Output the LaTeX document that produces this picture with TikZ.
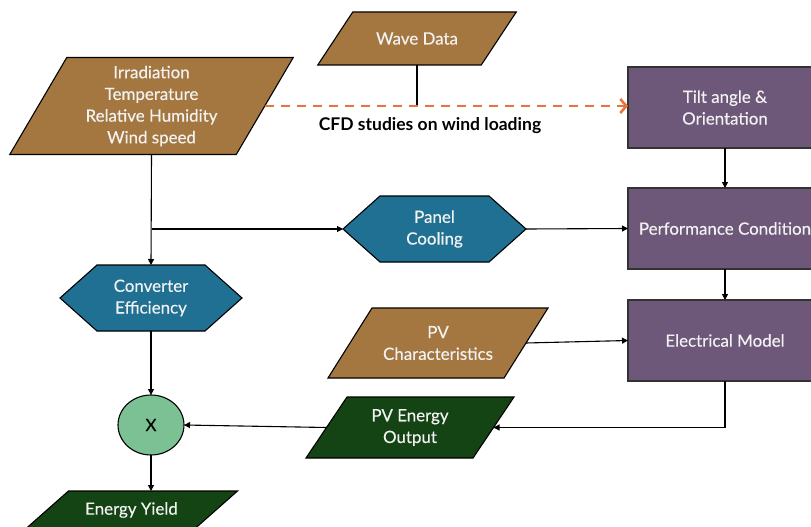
\documentclass[tikz,border=0pt]{standalone}
\usepackage{fontspec}
\setmainfont{Lato}
\newfontfamily\lblfont{Lato}[FakeBold=0.35]
\usetikzlibrary{arrows.meta,shapes.geometric,calc}
\pgfdeclarelayer{bg}
\pgfsetlayers{bg,main}
\definecolor{cbrown}{HTML}{A47741}
\definecolor{cteal}{HTML}{1F7093}
\definecolor{cpurple}{HTML}{6E5879}
\definecolor{dgreen}{HTML}{154414}
\definecolor{lgreen}{HTML}{7BC194}
\definecolor{corange}{HTML}{E8743B}
\newcommand\drawpara[3]{\fill[#3,draw=black,line width=1.1pt] ([xshift=#2/2]#1.north west) -- ([xshift=#2/2]#1.north east) -- ([xshift=-#2/2]#1.south east) -- ([xshift=-#2/2]#1.south west) -- cycle;}
\newcommand\drawhex[3]{\fill[#3,draw=black,line width=1.1pt] (#1.west) -- ([xshift=#2]#1.north west) -- ([xshift=-#2]#1.north east) -- (#1.east) -- ([xshift=-#2]#1.south east) -- ([xshift=#2]#1.south west) -- cycle;}
\newcommand\drawbox[2]{\fill[#2,draw=black!80,line width=1.1pt] (#1.north west) rectangle (#1.south east);}
\tikzset{
  lbl/.style={align=center, text=white!95!black, font=\lblfont\fontsize{16.9}{21.7}\selectfont, inner sep=0pt, outer sep=0pt},
  conn/.style={draw=black, line width=1.1pt},
  arr/.style={conn, -{Triangle[length=6pt,width=6pt]}},
  windarrow/.style={draw=corange, line width=2.6pt, dash pattern=on 9pt off 7pt, -{Straight Barb[length=6pt,width=14pt]}}
}
\begin{document}
\begin{tikzpicture}[x=1pt,y=-1pt]
\useasboundingbox (0,0) rectangle (811,527);
\node[lbl, minimum width=226.5, minimum height=97] (inp) at (151.5,106) {Irradiation\\Temperature\\Relative Humidity\\Wind speed};
\node[lbl, minimum width=163.5, minimum height=53] (wave) at (417,38.5) {Wave Data};
\node[lbl, minimum width=194, minimum height=81] (tilt) at (725,107.5) {Tilt angle \&\\Orientation};
\node[lbl, minimum width=194, minimum height=81] (perf) at (725,228.5) {Performance Condition};
\node[lbl, minimum width=194, minimum height=81] (elec) at (725,340.5) {Electrical Model};
\node[lbl, minimum width=183, minimum height=66] (cool) at (434.5,229) {Panel\\Cooling};
\node[lbl, minimum width=182, minimum height=66] (conv) at (151,298) {Converter\\Efficiency};
\node[lbl, ellipse, text=black, fill=lgreen, draw=black, line width=1.1pt, minimum width=66, minimum height=60] (mul) at (151,425) {X};
\node[lbl, minimum width=176, minimum height=70] (pvc) at (438,343) {PV\\Characteristics};
\node[lbl, minimum width=167, minimum height=61] (pveo) at (410,427.5) {PV Energy\\Output};
\node[lbl, minimum width=169, minimum height=38] (ey) at (131.5,510) {Energy Yield};
\node[lbl, text=black, font=\fontsize{17.5}{20}\selectfont\bfseries] (cfd) at (430,126) {CFD studies on wind loading};
\begin{pgfonlayer}{bg}
\clip (0,0) rectangle (811,527);
\drawpara{inp}{57}{cbrown}
\drawpara{wave}{35}{cbrown}
\drawpara{pvc}{44}{cbrown}
\drawpara{pveo}{41}{dgreen}
\drawpara{ey}{43}{dgreen}
\drawhex{cool}{37}{cteal}
\drawhex{conv}{37}{cteal}
\drawbox{tilt}{cpurple}
\drawbox{perf}{cpurple}
\drawbox{elec}{cpurple}
\end{pgfonlayer}
\draw[conn] (wave.south) -- (wave.south |- inp.east);
\draw[windarrow] (inp.east) -- (inp.east -| tilt.west);
\draw[arr] (tilt.south) -- (perf.north);
\draw[arr] (perf.south) -- (elec.north);
\draw[arr] (inp.south) -- (conv.north);
\draw[arr] (inp.south |- cool.west) -- (cool.west);
\draw[arr] (cool.east) -- (perf.west);
\draw[arr] (conv.south) -- (mul.north);
\draw[arr] (mul.south) -- (mul.south |- ey.north);
\draw[arr] (pvc.east) -- (elec.west);
\draw[arr] (elec.south) |- (pveo.east);
\draw[arr] (pveo.west) -- (mul.east);
\end{tikzpicture}
\end{document}
